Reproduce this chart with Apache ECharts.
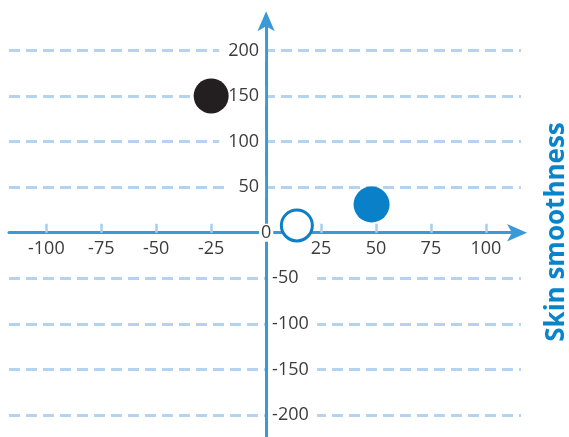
<!DOCTYPE html>
<html>
<head>
<meta charset="utf-8">
<script src="https://cdn.jsdelivr.net/npm/echarts@6/dist/echarts.min.js"></script>
<style>
html,body{margin:0;padding:0;background:#fff;}
#chart{width:569px;height:437px;}
</style>
</head>
<body>
<div id="chart"></div>
<script>
// ---- data ----
const pointX = [-25, 14, 48];
const pointY = [150, 8, 31];
const xTickValues = [-100, -75, -50, -25, 25, 50, 75, 100];
const xLabelValues = [-100, -75, -50, -25, 0, 25, 50, 75, 100];
const yPosLabelValues = [50, 100, 150, 200];
const yNegLabelValues = [-50, -100, -150, -200];
const gridLineValues = [200, 150, 100, 50, -50, -100, -150, -200];
const axisTitle = 'Skin smoothness';

// ---- layout / styles ----
const W = 569, H = 437;
const gridLeft = 9, gridRight = 48, gridTop = 21.2, gridBottom = 0;
const xMin = -117, xMax = 116, yMin = -224, yMax = 232;
const gridW = W - gridLeft - gridRight;
const gridH = H - gridTop - gridBottom;
// pixel position of the zero lines (axes cross at the origin)
const zeroXpx = gridLeft + (0 - xMin) / (xMax - xMin) * gridW;
const zeroYpx = gridTop + (yMax - 0) / (yMax - yMin) * gridH;

const pointStyles = [
  { color: '#231f20', opacity: 1 },
  { color: '#ffffff', borderColor: '#0a80c9', borderWidth: 3, opacity: 1 },
  { color: '#0a80c9', opacity: 1 }
];
const pointSizes = [35, 31, 36];
const axisColor = '#3a9ad8';
const gridColor = '#b4d3f0';
const textColor = '#3c3c3c';
const fontFamily = '"Open Sans", "Noto Sans", sans-serif';

const chart = echarts.init(document.getElementById('chart'), null, { renderer: 'canvas' });

const scatterData = pointX.map((x, i) => ({
  value: [x, pointY[i]],
  symbolSize: pointSizes[i],
  itemStyle: pointStyles[i]
}));

const option = {
  animation: false,
  grid: { left: gridLeft, right: gridRight, top: gridTop, bottom: gridBottom,
          containLabel: false, outerBoundsMode: 'none' },
  xAxis: [{
    type: 'value',
    min: xMin,
    max: xMax,
    z: 4,
    position: 'bottom',
    offset: -(H - gridBottom - zeroYpx),
    axisLine: {
      show: true, onZero: false,
      symbol: ['none', 'arrow'], symbolSize: [13, 20], symbolOffset: [0, 6],
      lineStyle: { color: axisColor, width: 3 }
    },
    axisTick: {
      show: true, inside: true, length: 9,
      customValues: xTickValues,
      lineStyle: { color: '#a9cdee', width: 2.5 }
    },
    splitLine: { show: false },
    axisLabel: {
      customValues: xLabelValues,
      margin: 0,
      verticalAlign: 'middle',
      formatter: function (v) {
        if (v === 0) return '{z|0}';
        return '{s| }\n{t|' + v + '}';
      },
      rich: {
        s: { lineHeight: 32, fontSize: 18, fontFamily: fontFamily },
        t: { lineHeight: 32, fontSize: 18, fontFamily: fontFamily, color: textColor },
        z: { lineHeight: 16, fontSize: 18, fontFamily: fontFamily, color: textColor,
             backgroundColor: '#ffffff', padding: [0, 2, 0, 2] }
      }
    }
  }],
  yAxis: [{
    type: 'value',
    min: yMin,
    max: yMax,
    z: 3,
    position: 'left',
    offset: gridLeft - zeroXpx,
    axisLine: {
      show: true, onZero: false,
      symbol: ['none', 'arrow'], symbolSize: [13, 20], symbolOffset: [0, 10],
      lineStyle: { color: axisColor, width: 3 }
    },
    axisTick: { show: false },
    splitLine: { show: false },
    axisLabel: {
      customValues: yPosLabelValues,
      margin: 1,
      fontSize: 18,
      fontFamily: fontFamily,
      color: textColor,
      backgroundColor: '#ffffff',
      padding: [2, 6, 2, 9]
    }
  }, {
    type: 'value',
    min: yMin,
    max: yMax,
    z: 3,
    position: 'right',
    offset: zeroXpx - (W - gridRight),
    axisLine: { show: false, onZero: false },
    axisTick: { show: false },
    splitLine: { show: false },
    axisLabel: {
      customValues: yNegLabelValues,
      margin: 2,
      fontSize: 18,
      fontFamily: fontFamily,
      color: textColor,
      backgroundColor: '#ffffff',
      align: 'left',
      width: 45,
      padding: [2, 0, 2, 4]
    }
  }],
  series: [{
    type: 'scatter',
    z: 5,
    symbol: 'circle',
    data: scatterData,
    markLine: {
      z: 1,
      silent: true,
      symbol: ['none', 'none'],
      label: { show: false },
      lineStyle: { color: gridColor, width: 3, type: [11, 6] },
      emphasis: { disabled: true },
      data: gridLineValues.map(v => ({ yAxis: v }))
    }
  }],
  graphic: [{
    type: 'text',
    x: 557,
    y: 232,
    rotation: Math.PI / 2,
    style: {
      text: axisTitle,
      fill: '#0984cc',
      font: 'bold 26px ' + fontFamily,
      align: 'center',
      verticalAlign: 'middle'
    }
  }]
};

chart.setOption(option);
</script>
</body>
</html>
